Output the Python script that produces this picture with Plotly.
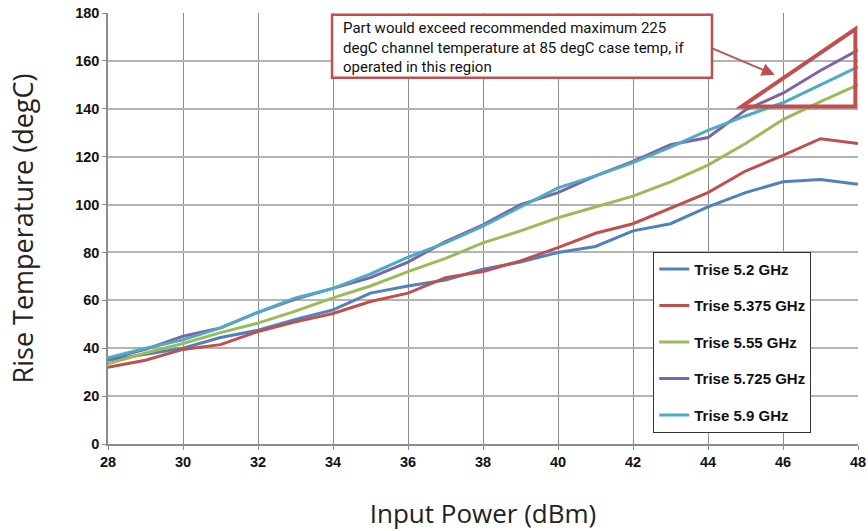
import plotly.graph_objects as go

power_dbm = [28, 29, 30, 31, 32, 33, 34, 35, 36, 37, 38, 39, 40, 41, 42, 43, 44, 45, 46, 47, 48]

trise_5_2 = [35, 37.5, 40, 44.5, 47.5, 52, 56, 63, 66, 68.5, 73, 76, 80, 82.5, 89, 92, 99, 105, 109.5, 110.5, 108.5]
trise_5_375 = [32, 35, 39.5, 41.5, 47, 51, 54.5, 59.5, 63, 69.5, 72, 76.5, 82, 88, 92, 98.5, 105, 114, 120.5, 127.5, 125.5]
trise_5_55 = [33.5, 38, 42, 46.5, 50.5, 55.5, 61, 66, 72, 77.5, 84, 89, 94.5, 99, 103.5, 109.5, 116.5, 125.5, 135.5, 143, 150]
trise_5_725 = [35.5, 39.5, 45, 48.5, 55, 60.5, 65, 69.5, 76, 84.5, 91.5, 100, 105, 112, 118, 125, 128, 139.5, 146.5, 156, 164.5]
trise_5_9 = [36, 40, 43.5, 48.5, 55, 61, 65, 71, 78, 84, 91, 99, 107, 112, 117.5, 124, 131, 137, 142.5, 150, 157.5]

series_names = ["Trise 5.2 GHz", "Trise 5.375 GHz", "Trise 5.55 GHz", "Trise 5.725 GHz", "Trise 5.9 GHz"]
series_values = [trise_5_2, trise_5_375, trise_5_55, trise_5_725, trise_5_9]
series_colors = ["#4F81BD", "#C0504D", "#9BBB59", "#8064A2", "#4BACC6"]

note_text = ("Part would exceed recommended maximum 225<br>"
             "degC channel temperature at 85 degC case temp, if<br>"
             "operated in this region")

# Region triangle (data coordinates)
tri_x = [44.9, 47.93, 47.93]
tri_y = [141, 173.3, 141]

fig = go.Figure()
for name, vals, col in zip(series_names, series_values, series_colors):
    fig.add_trace(go.Scatter(x=power_dbm, y=vals, mode="lines", name=name,
                             legendgroup=name,
                             line=dict(color=col, width=3)))

tick_font = dict(family="Liberation Sans, Arial, sans-serif", size=14.5, color="#111", weight="bold")
x_title_font = dict(family="Open Sans, Noto Sans, sans-serif", size=26, color="#222")
y_title_font = dict(family="Open Sans, Noto Sans, sans-serif", size=27, color="#222")

fig.update_layout(
    width=868, height=531,
    margin=dict(l=108, r=10, t=13, b=87),
    paper_bgcolor="white", plot_bgcolor="white",
    showlegend=True,
    legend=dict(x=0.727, y=0.446, xanchor="left", yanchor="top",
                bordercolor="#333", borderwidth=1, bgcolor="white",
                font=dict(family="Liberation Sans, Arial, sans-serif", size=15, color="#111", weight="bold"),
                itemwidth=30, tracegroupgap=14),
    xaxis=dict(range=[28, 48], dtick=2, tick0=28, showgrid=True, gridcolor="#8c8c8c", gridwidth=1,
               showline=True, linecolor="#8c8c8c", linewidth=1.5,
               ticks="outside", ticklen=4, tickcolor="#8c8c8c",
               tickfont=tick_font, zeroline=False, automargin=False,
               title=dict(text="Input Power (dBm)", font=x_title_font, standoff=36)),
    yaxis=dict(range=[0, 180], dtick=20, showgrid=True, gridcolor="#b4b4b4", gridwidth=1.5,
               showline=True, linecolor="#8c8c8c", linewidth=1.5,
               ticks="outside", ticklen=4, tickcolor="#8c8c8c",
               tickfont=tick_font, zeroline=False, automargin=False,
               title=dict(text="Rise Temperature (degC)", font=y_title_font, standoff=34)),
)

# Note box
fig.add_shape(type="rect", xref="paper", yref="paper",
              x0=0.2987, x1=0.8053, y0=0.8498, y1=0.996,
              line=dict(color="#C0504D", width=2.5), fillcolor="white", layer="above")
fig.add_annotation(xref="paper", yref="paper", x=0.311, y=0.99, xanchor="left", yanchor="top",
                   text=note_text, showarrow=False, align="left",
                   font=dict(family="Roboto, sans-serif", size=15, color="#111"))

# Arrow
fig.add_annotation(x=45.78, y=154.2, ax=44.09, ay=165.4, xref="x", yref="y", axref="x", ayref="y",
                   text="", showarrow=True, arrowhead=2, arrowsize=1.3, arrowwidth=2,
                   arrowcolor="#C0504D")

# Triangle region
path = "M {},{} L {},{} L {},{} Z".format(tri_x[0], tri_y[0], tri_x[1], tri_y[1], tri_x[2], tri_y[2])
fig.add_shape(type="path", path=path, xref="x", yref="y",
              line=dict(color="#C0504D", width=4), layer="above")

fig.write_html("out.html")
